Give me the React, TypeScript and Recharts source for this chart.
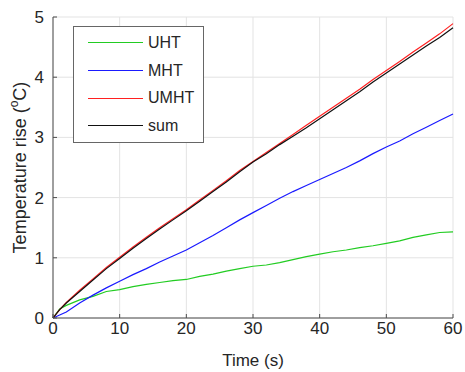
import { LineChart, Line, XAxis, YAxis, CartesianGrid, Legend } from 'recharts';

const time = [0, 1, 2, 4, 6, 8, 10, 12, 14, 16, 18, 20, 22, 24, 26, 28, 30, 32, 34, 36, 38, 40, 42, 44, 46, 48, 50, 52, 54, 56, 58, 60];
const uht = [0, 0.15, 0.21, 0.3, 0.36, 0.44, 0.47, 0.52, 0.56, 0.59, 0.62, 0.64, 0.69, 0.73, 0.78, 0.82, 0.86, 0.88, 0.92, 0.97, 1.02, 1.06, 1.1, 1.13, 1.17, 1.2, 1.24, 1.28, 1.34, 1.38, 1.42, 1.43];
const mht = [0, 0.05, 0.1, 0.25, 0.38, 0.5, 0.61, 0.72, 0.82, 0.93, 1.03, 1.13, 1.25, 1.37, 1.5, 1.63, 1.75, 1.87, 1.99, 2.1, 2.2, 2.3, 2.4, 2.5, 2.61, 2.73, 2.84, 2.94, 3.06, 3.17, 3.28, 3.39];
const umht = [0, 0.14, 0.26, 0.46, 0.65, 0.84, 1.01, 1.18, 1.34, 1.5, 1.65, 1.8, 1.96, 2.12, 2.28, 2.45, 2.6, 2.75, 2.9, 3.05, 3.2, 3.35, 3.5, 3.65, 3.8, 3.96, 4.11, 4.26, 4.42, 4.57, 4.72, 4.89];
const sum = [0, 0.14, 0.25, 0.44, 0.63, 0.82, 0.99, 1.16, 1.32, 1.48, 1.63, 1.78, 1.94, 2.1, 2.26, 2.43, 2.59, 2.73, 2.88, 3.02, 3.16, 3.31, 3.46, 3.61, 3.76, 3.92, 4.07, 4.22, 4.37, 4.52, 4.66, 4.82];

const seriesNames = ['UHT', 'MHT', 'UMHT', 'sum'];
const xTicks = [0, 10, 20, 30, 40, 50, 60];
const yTicks = [0, 1, 2, 3, 4, 5];

const data = time.map((t, i) => ({ t, UHT: uht[i], MHT: mht[i], UMHT: umht[i], sum: sum[i] }));

const FONT = '"Liberation Sans", Arial, sans-serif';
const TEXT = '#262626';
const AXIS = '#4d4d4d';

const XTick = ({ x, y, payload }: any) => (
    <g>
        <line x1={x} y1={y - 4} x2={x} y2={y - 8} stroke={AXIS} />
        <text x={x} y={y} dy="0.71em" textAnchor="middle" fontSize={17} fill={TEXT} fontFamily={FONT}>
            {payload.value}
        </text>
    </g>
);

const YTick = ({ x, y, payload }: any) => (
    <g>
        <line x1={x + 9} y1={y} x2={x + 13} y2={y} stroke={AXIS} />
        <text x={x} y={y} dy="0.35em" textAnchor="end" fontSize={17} fill={TEXT} fontFamily={FONT}>
            {payload.value}
        </text>
    </g>
);

const LegendBox = ({ payload }: any) => {
    const items = [...(payload || [])].sort(
        (a: any, b: any) => seriesNames.indexOf(a.value) - seriesNames.indexOf(b.value)
    );
    return (
        <div
            style={{
                boxSizing: 'border-box',
                width: 131,
                height: 117,
                border: '1.5px solid #666',
                background: '#fff',
                paddingTop: 2,
                fontFamily: FONT,
                fontSize: 16,
                color: TEXT,
            }}
        >
            {items.map((p: any) => (
                <div key={p.value} style={{ display: 'flex', alignItems: 'center', height: 27.7 }}>
                    <div style={{ marginLeft: 14, width: 55, height: 0, borderTop: `1.5px solid ${p.color}` }} />
                    <span style={{ marginLeft: 5 }}>{p.value}</span>
                </div>
            ))}
        </div>
    );
};

export default function App() {
    return (
        <div style={{ position: 'absolute', left: 0, top: 0, background: '#fff' }}>
            <LineChart width={465} height={372} data={data} margin={{ top: 17, right: 12, left: 0, bottom: 0 }}>
                <CartesianGrid stroke="#e3e3e3" />
                <XAxis
                    dataKey="t"
                    type="number"
                    domain={[0, 60]}
                    ticks={xTicks}
                    height={54}
                    tickSize={0}
                    tickMargin={4}
                    tick={<XTick />}
                    stroke={AXIS}
                    label={{
                        content: ({ viewBox }: any) => (
                            <text
                                x={viewBox.x + viewBox.width / 2}
                                y={viewBox.y + 48}
                                textAnchor="middle"
                                fontSize={17}
                                fill={TEXT}
                                fontFamily={FONT}
                            >
                                Time (s)
                            </text>
                        ),
                    }}
                />
                <YAxis
                    type="number"
                    domain={[0, 5]}
                    ticks={yTicks}
                    width={53}
                    tickSize={0}
                    tickMargin={9}
                    tick={<YTick />}
                    stroke={AXIS}
                    label={{
                        content: ({ viewBox }: any) => {
                            const cx = 20;
                            const cy = viewBox.y + viewBox.height / 2;
                            return (
                                <text
                                    x={cx}
                                    y={cy}
                                    transform={`rotate(-90, ${cx}, ${cy})`}
                                    textAnchor="middle"
                                    dominantBaseline="central"
                                    fontSize={18}
                                    fill={TEXT}
                                    fontFamily={FONT}
                                >
                                    Temperature rise (<tspan dy={-6} fontSize={12}>o</tspan>
                                    <tspan dy={6}>C)</tspan>
                                </text>
                            );
                        },
                    }}
                />
                <Legend
                    layout="vertical"
                    align="center"
                    verticalAlign="middle"
                    wrapperStyle={{ left: 73, top: 26, width: 131, height: 117 }}
                    content={<LegendBox />}
                />
                <Line dataKey="UHT" stroke="#22cc22" strokeWidth={1.2} dot={false} isAnimationActive={false} />
                <Line dataKey="MHT" stroke="#1a1aff" strokeWidth={1.2} dot={false} isAnimationActive={false} />
                <Line dataKey="UMHT" stroke="#ff2020" strokeWidth={1.2} dot={false} isAnimationActive={false} />
                <Line dataKey="sum" stroke="#111" strokeWidth={1.2} dot={false} isAnimationActive={false} />
            </LineChart>
        </div>
    );
}
